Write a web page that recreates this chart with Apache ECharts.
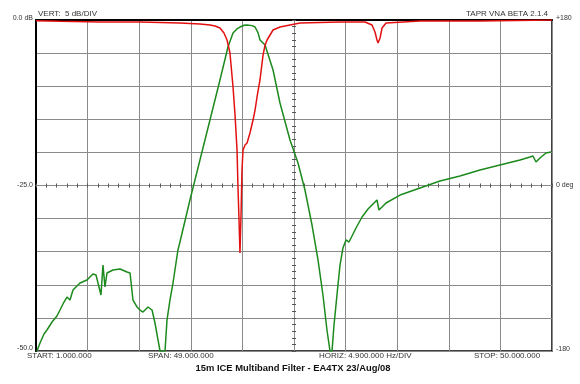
<!DOCTYPE html>
<html><head><meta charset="utf-8">
<script src="https://cdn.jsdelivr.net/npm/echarts@6/dist/echarts.min.js"></script>
<style>html,body{margin:0;padding:0;background:#fff}#c{width:580px;height:384px}</style>
</head><body><div id="c"></div>
<script>
// Frequency in MHz, level in dB
const redFreq = [1.00,3.28,7.08,10.88,14.67,16.57,17.52,18.00,18.47,18.85,19.14,19.42,19.71,19.90,20.09,20.18,20.28,20.37,20.47,20.56,20.66,20.85,21.04,21.32,21.61,21.80,21.99,22.27,22.56,22.75,22.94,23.51,24.17,26.07,29.87,32.24,32.91,33.19,33.38,33.48,33.67,33.86,34.24,37.47,43.16,50.00];
const redDb   = [-0.10,-0.20,-0.30,-0.30,-0.45,-0.60,-0.75,-0.91,-1.21,-1.96,-3.02,-4.98,-10.12,-14.35,-19.64,-25.23,-30.21,-35.20,-29.46,-22.66,-19.64,-18.88,-18.58,-17.07,-15.11,-13.60,-11.63,-9.06,-5.30,-3.80,-3.02,-1.51,-1.06,-0.45,-0.30,-0.30,-0.76,-1.81,-3.02,-3.47,-2.72,-1.21,-0.45,-0.15,-0.15,0];
const greenFreq = [1.09,1.38,1.76,2.04,2.52,2.99,3.28,3.66,3.94,4.23,4.51,5.18,5.84,6.41,6.70,6.79,7.17,7.36,7.55,7.74,8.31,8.98,9.64,9.93,10.21,10.59,10.88,11.16,11.64,12.02,12.30,12.59,12.78,13.25,13.44,13.72,14.01,14.48,14.67,15.62,16.57,17.52,18.47,19.23,19.71,20.08,20.37,20.75,21.04,21.51,21.80,22.08,22.27,22.75,23.51,24.17,25.12,25.88,26.54,27.21,27.78,28.25,28.63,28.92,29.11,29.30,29.58,29.87,30.15,30.44,30.72,31.01,31.39,31.96,32.53,33.10,33.38,33.57,33.86,34.24,35.57,37.47,39.36,41.26,43.16,45.06,46.96,47.91,48.19,48.48,48.86,49.43,49.91];
const greenDb   = [-50,-48.79,-47.43,-46.83,-45.62,-44.71,-43.81,-42.60,-41.85,-42.30,-40.79,-39.73,-39.28,-38.37,-38.52,-38.52,-41.54,-37.01,-40.33,-38.22,-37.77,-37.61,-38.07,-38.22,-42.30,-43.35,-43.81,-44.11,-43.35,-43.81,-45.77,-48.34,-50,-50,-45.32,-42.30,-39.73,-34.74,-33.54,-27.19,-21.15,-15.11,-9.06,-4.08,-1.96,-1.35,-1.06,-0.80,-0.76,-0.85,-1.06,-1.90,-3.02,-3.78,-7.55,-12.54,-18.13,-21.60,-25.68,-30.97,-36.25,-41.54,-46.83,-50,-50,-46.07,-41.54,-37.01,-34.44,-33.23,-33.54,-32.63,-31.42,-29.76,-28.55,-27.64,-27.19,-28.70,-28.25,-27.64,-26.44,-25.38,-24.32,-23.57,-22.66,-21.90,-21.15,-20.70,-20.54,-21.45,-20.85,-20.09,-19.94];
const yTickLabels = {"0":"0.0 dB","-25":"-25.0","-50":"-50.0"};
const rightLabels = ["+180","0 deg","-180"];
const bottomLabels = ["START: 1.000.000","SPAN: 49.000.000","HORIZ: 4.900.000 Hz/DIV","STOP: 50.000.000"];
const topLeftText = "VERT:  5 dB/DIV";
const topRightText = "TAPR VNA BETA 2.1.4";
const titleText = "15m ICE Multiband Filter - EA4TX 23/Aug/08";

const redData = redFreq.map((f,i)=>[f, redDb[i]]);
const greenData = greenFreq.map((f,i)=>[f, greenDb[i]]);

const FONT = 'Liberation Sans, Arial, sans-serif';
const TXT = '#333';
const GRID = '#8a8a8a';
const rect = {left:36, right:28, top:20, bottom:33};

const chart = echarts.init(document.getElementById('c'), null, {renderer:'canvas'});
chart.setOption({
  animation:false,
  backgroundColor:'#fff',
  grid:[
    Object.assign({show:true, borderColor:'#000', borderWidth:1.5, backgroundColor:'transparent'}, rect),
    Object.assign({}, rect),
    Object.assign({}, rect)
  ],
  xAxis:[
    {type:'value', gridIndex:0, min:1, max:50, show:false},
    {type:'value', gridIndex:0, min:0, max:10, interval:1,
      axisLine:{show:true, onZero:false, lineStyle:{color:'#000', width:2}},
      axisTick:{show:false}, axisLabel:{show:false},
      splitLine:{show:true, lineStyle:{color:GRID, width:1}}},
    {type:'value', gridIndex:1, min:-5, max:5, interval:0.2,
      axisLine:{show:true, onZero:true, lineStyle:{color:GRID, width:1}},
      axisTick:{show:true, inside:true, length:2, lineStyle:{color:'#555'}},
      axisLabel:{show:false}, splitLine:{show:false}},
    {type:'value', gridIndex:2, min:-5, max:5, interval:0.2,
      axisLine:{show:true, onZero:true, lineStyle:{color:GRID, width:1}},
      axisTick:{show:true, inside:false, length:2, lineStyle:{color:'#555'}},
      axisLabel:{show:false}, splitLine:{show:false}}
  ],
  yAxis:[
    {type:'value', gridIndex:0, min:-50, max:0, interval:5,
      axisLine:{show:true, onZero:false, lineStyle:{color:'#000', width:2}},
      axisTick:{show:false},
      axisLabel:{show:false},
      splitLine:{show:true, lineStyle:{color:GRID, width:1}}},
    {type:'value', gridIndex:1, min:-5, max:5, interval:0.2,
      axisLine:{show:true, onZero:true, lineStyle:{color:GRID, width:1}},
      axisTick:{show:true, inside:true, length:2, lineStyle:{color:'#555'}},
      axisLabel:{show:false}, splitLine:{show:false}},
    {type:'value', gridIndex:2, min:-5, max:5, interval:0.2,
      axisLine:{show:true, onZero:true, lineStyle:{color:GRID, width:1}},
      axisTick:{show:true, inside:false, length:2, lineStyle:{color:'#555'}},
      axisLabel:{show:false}, splitLine:{show:false}}
  ],
  series:[
    {type:'line', xAxisIndex:0, yAxisIndex:0, data:greenData, symbol:'none',
      lineStyle:{color:'#1c8a1c', width:1.5}, clip:true, z:5},
    {type:'line', xAxisIndex:0, yAxisIndex:0, data:redData, symbol:'none',
      lineStyle:{color:'#e21010', width:1.5}, clip:true, z:6}
  ],
  graphic:[
    {type:'text', x:33, y:18, style:{text:yTickLabels["0"], font:'7px '+FONT, fill:TXT, align:'right', verticalAlign:'middle'}},
    {type:'text', x:33, y:185, style:{text:yTickLabels["-25"], font:'7px '+FONT, fill:TXT, align:'right', verticalAlign:'middle'}},
    {type:'text', x:33, y:348, style:{text:yTickLabels["-50"], font:'7px '+FONT, fill:TXT, align:'right', verticalAlign:'middle'}},
    {type:'text', x:556, y:18, style:{text:rightLabels[0], font:'7px '+FONT, fill:TXT, align:'left', verticalAlign:'middle'}},
    {type:'text', x:556, y:185, style:{text:rightLabels[1], font:'7px '+FONT, fill:TXT, align:'left', verticalAlign:'middle'}},
    {type:'text', x:556, y:349, style:{text:rightLabels[2], font:'7px '+FONT, fill:TXT, align:'left', verticalAlign:'middle'}},
    {type:'text', x:38, y:14, style:{text:topLeftText, font:'8px '+FONT, fill:TXT, align:'left', verticalAlign:'middle'}},
    {type:'text', x:548, y:14, style:{text:topRightText, font:'8px '+FONT, fill:TXT, align:'right', verticalAlign:'middle'}},
    {type:'text', x:27, y:356, style:{text:bottomLabels[0], font:'8px '+FONT, fill:TXT, align:'left', verticalAlign:'middle'}},
    {type:'text', x:148, y:356, style:{text:bottomLabels[1], font:'8px '+FONT, fill:TXT, align:'left', verticalAlign:'middle'}},
    {type:'text', x:319, y:356, style:{text:bottomLabels[2], font:'8px '+FONT, fill:TXT, align:'left', verticalAlign:'middle'}},
    {type:'text', x:474, y:356, style:{text:bottomLabels[3], font:'8px '+FONT, fill:TXT, align:'left', verticalAlign:'middle'}},
    {type:'text', x:293, y:368, style:{text:titleText, font:'bold 9.4px '+FONT, fill:'#111', align:'center', verticalAlign:'middle'}}
  ]
});
</script></body></html>
